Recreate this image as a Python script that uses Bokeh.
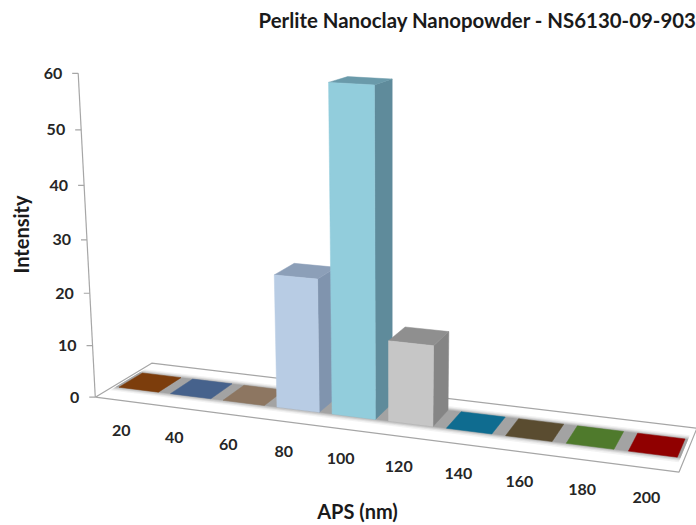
import numpy as np
from bokeh.plotting import figure
from bokeh.models import Range1d
from bokeh.core.properties import value
from bokeh.embed import file_html
from bokeh.resources import INLINE

# ---- chart data ----
categories = ["20", "40", "60", "80", "100", "120", "140", "160", "180", "200"]
intensity = [0, 0, 0, 25, 60, 15, 0, 0, 0, 0]
y_ticks = [0, 10, 20, 30, 40, 50, 60]
title = "Perlite Nanoclay Nanopowder - NS6130-09-903"
x_title = "APS (nm)"
y_title = "Intensity"
front_colors = ["#7c3d0c", "#46628c", "#8d7661", "#b8cce4", "#92cddc", "#c6c6c6", "#0f6c90", "#5a4c30", "#4f7a2c", "#900000"]
side_colors = ["#7c3d0c", "#46628c", "#8d7661", "#8094ae", "#5f8b9b", "#858585", "#0f6c90", "#5a4c30", "#4f7a2c", "#900000"]
top_colors = ["#7c3d0c", "#46628c", "#8d7661", "#8c9fb8", "#6a9aaa", "#8f8f8f", "#0f6c90", "#5a4c30", "#4f7a2c", "#900000"]

# ---- 3D camera of the reference, calibrated (world: category, value, depth -> page px) ----
BAR_L, BAR_R, BAR_F, BAR_B = 0.115, 0.885, 0.30, 0.72
calibration = [
    ((0, 0, 0), (96, 397), 3), ((10, 0, 0), (678, 472), 3), ((0, 0, 1), (152, 363), 2), ((10, 0, 1), (695, 427), 2),
    ((0, 60, 0), (78, 73), 8), ((0, 50, 0), (80.5, 129), 5), ((0, 40, 0), (83, 185), 5), ((0, 30, 0), (86, 240), 5),
    ((0, 20, 0), (89, 292), 5), ((0, 10, 0), (92, 345), 5),
]
for i, (fl, fr, br, bl) in {
    0: ((119, 387), (160, 391), (179, 378), (140, 373)),
    1: ((171, 393), (213, 397), (231, 384), (192, 379)),
    6: ((446, 427), (491, 433), (505, 418), (462, 412)),
    7: ((505, 435), (553, 440), (564, 425), (518, 419)),
    8: ((566, 443), (614, 448), (624, 433), (576, 427)),
    9: ((628, 450), (679, 457), (687, 440), (636, 434)),
}.items():
    calibration += [((i + BAR_L, 0, BAR_F), fl, 1), ((i + BAR_R, 0, BAR_F), fr, 1),
                    ((i + BAR_R, 0, BAR_B), br, 1), ((i + BAR_L, 0, BAR_B), bl, 1)]
# bar corners fix how much the verticals lean and how heights grow towards the viewer
calibration += [
    ((3 + BAR_L, 25, BAR_F), (274, 274), 3), ((4 + BAR_L, 60, BAR_F), (328, 82), 3),
    ((4 + BAR_R, 60, BAR_F), (375, 84), 3), ((4 + BAR_R, 60, BAR_B), (391, 78), 3),
    ((5 + BAR_L, 15, BAR_F), (388, 340), 3),
    ((4 + BAR_L, 0, BAR_F), (332, 413), 1), ((4 + BAR_R, 0, BAR_F), (377, 418), 1),
]
A, b = [], []
for (X, Y, Z), (u, v), wt in calibration:
    A.append([wt * k for k in [X, Y, Z, 1, 0, 0, 0, 0, -u * X, -u * Y, -u * Z]]); b.append(wt * u)
    A.append([wt * k for k in [0, 0, 0, 0, X, Y, Z, 1, -v * X, -v * Y, -v * Z]]); b.append(wt * v)
c = np.linalg.lstsq(np.array(A, float), np.array(b, float), rcond=None)[0]
P = np.append(c, 1.0).reshape(3, 4)


def proj(X, Y, Z):
    u, v, w = P @ np.array([X, Y, Z, 1.0])
    return float(u / w), float(v / w)


def quad(*pts):
    s = [proj(*q) for q in pts]
    return [q[0] for q in s], [q[1] for q in s]


# ---- figure: one data unit is one page pixel ----
p = figure(width=696, height=525, x_range=Range1d(0, 696), y_range=Range1d(525, 0),
           output_backend="svg", toolbar_location=None, min_border=0,
           x_axis_type=None, y_axis_type=None, outline_line_color=None)
p.grid.visible = False
p.background_fill_color = "white"

n = len(categories)
AXIS = "#a6a6a6"
# floor slab
fx, fy = quad((0, 0, 0), (n, 0, 0), (n, 0, 1), (0, 0, 1), (0, 0, 0))
p.line(fx, fy, line_color=AXIS, line_width=1.2)

# grey shadow band under the row of bars
for m, alpha in ((0.10, 0.10), (0.07, 0.16), (0.045, 0.25), (0.02, 0.35), (0.0, 0.45)):
    x, y = quad((BAR_L - 0.06, 0, BAR_F - m), (n - 1 + BAR_R + 0.05, 0, BAR_F - m),
                (n - 1 + BAR_R + 0.05, 0, BAR_B + m), (BAR_L - 0.06, 0, BAR_B + m))
    p.patch(x, y, fill_color="#8c8c8c", fill_alpha=alpha, line_color=None)

# value axis
ax0, ay0 = proj(0, 0, 0)
ax1, ay1 = proj(0, y_ticks[-1], 0)
p.line([ax0, ax1], [ay0, ay1], line_color=AXIS, line_width=1.2)
for t in y_ticks:
    tx, ty = proj(0, t, 0)
    p.line([tx - 6, tx], [ty, ty], line_color=AXIS, line_width=1.2)
    p.text([tx - 16], [ty], text=[str(t)], text_align="right", text_baseline="middle",
           text_font=value("Lato"), text_font_style="bold", text_font_size="16px", text_color="#262626")

# bars, left to right so that each one covers its neighbour's side
for i, v in enumerate(intensity):
    L, R = i + BAR_L, i + BAR_R
    if v > 0:
        x, y = quad((R, 0, BAR_F), (R, 0, BAR_B), (R, v, BAR_B), (R, v, BAR_F))
        p.patch(x, y, fill_color=side_colors[i], line_color=side_colors[i], line_width=0.5)
        x, y = quad((L, v, BAR_F), (R, v, BAR_F), (R, v, BAR_B), (L, v, BAR_B))
        p.patch(x, y, fill_color=top_colors[i], line_color=top_colors[i], line_width=0.5)
    x, y = quad((L, 0, BAR_F), (R, 0, BAR_F), (R, v, BAR_F), (L, v, BAR_F)) if v > 0 else \
        quad((L, 0, BAR_F), (R, 0, BAR_F), (R, 0, BAR_B), (L, 0, BAR_B))
    p.patch(x, y, fill_color=front_colors[i], line_color=front_colors[i], line_width=0.5)

# category labels
for i, label in enumerate(categories):
    lx, ly = proj(i + 0.5, 0, 0)
    p.text([lx], [ly + 30], text=[label], text_align="center", text_baseline="middle",
           text_font=value("Lato"), text_font_style="bold", text_font_size="16px", text_color="#262626")

# titles
p.text([258], [19], text=[title], text_align="left", text_baseline="middle",
       text_font=value("Lato"), text_font_style="bold", text_font_size="20.4px", text_color="#1a1a1a")
p.text([357], [510], text=[x_title], text_align="center", text_baseline="middle",
       text_font=value("Lato"), text_font_style="bold", text_font_size="20px", text_color="#1a1a1a")
p.text([20], [234], text=[y_title], angle=[np.pi / 2], text_align="center", text_baseline="middle",
       text_font=value("Lato"), text_font_style="bold", text_font_size="20px", text_color="#1a1a1a")

open("out.html", "w").write(file_html(p, INLINE))
